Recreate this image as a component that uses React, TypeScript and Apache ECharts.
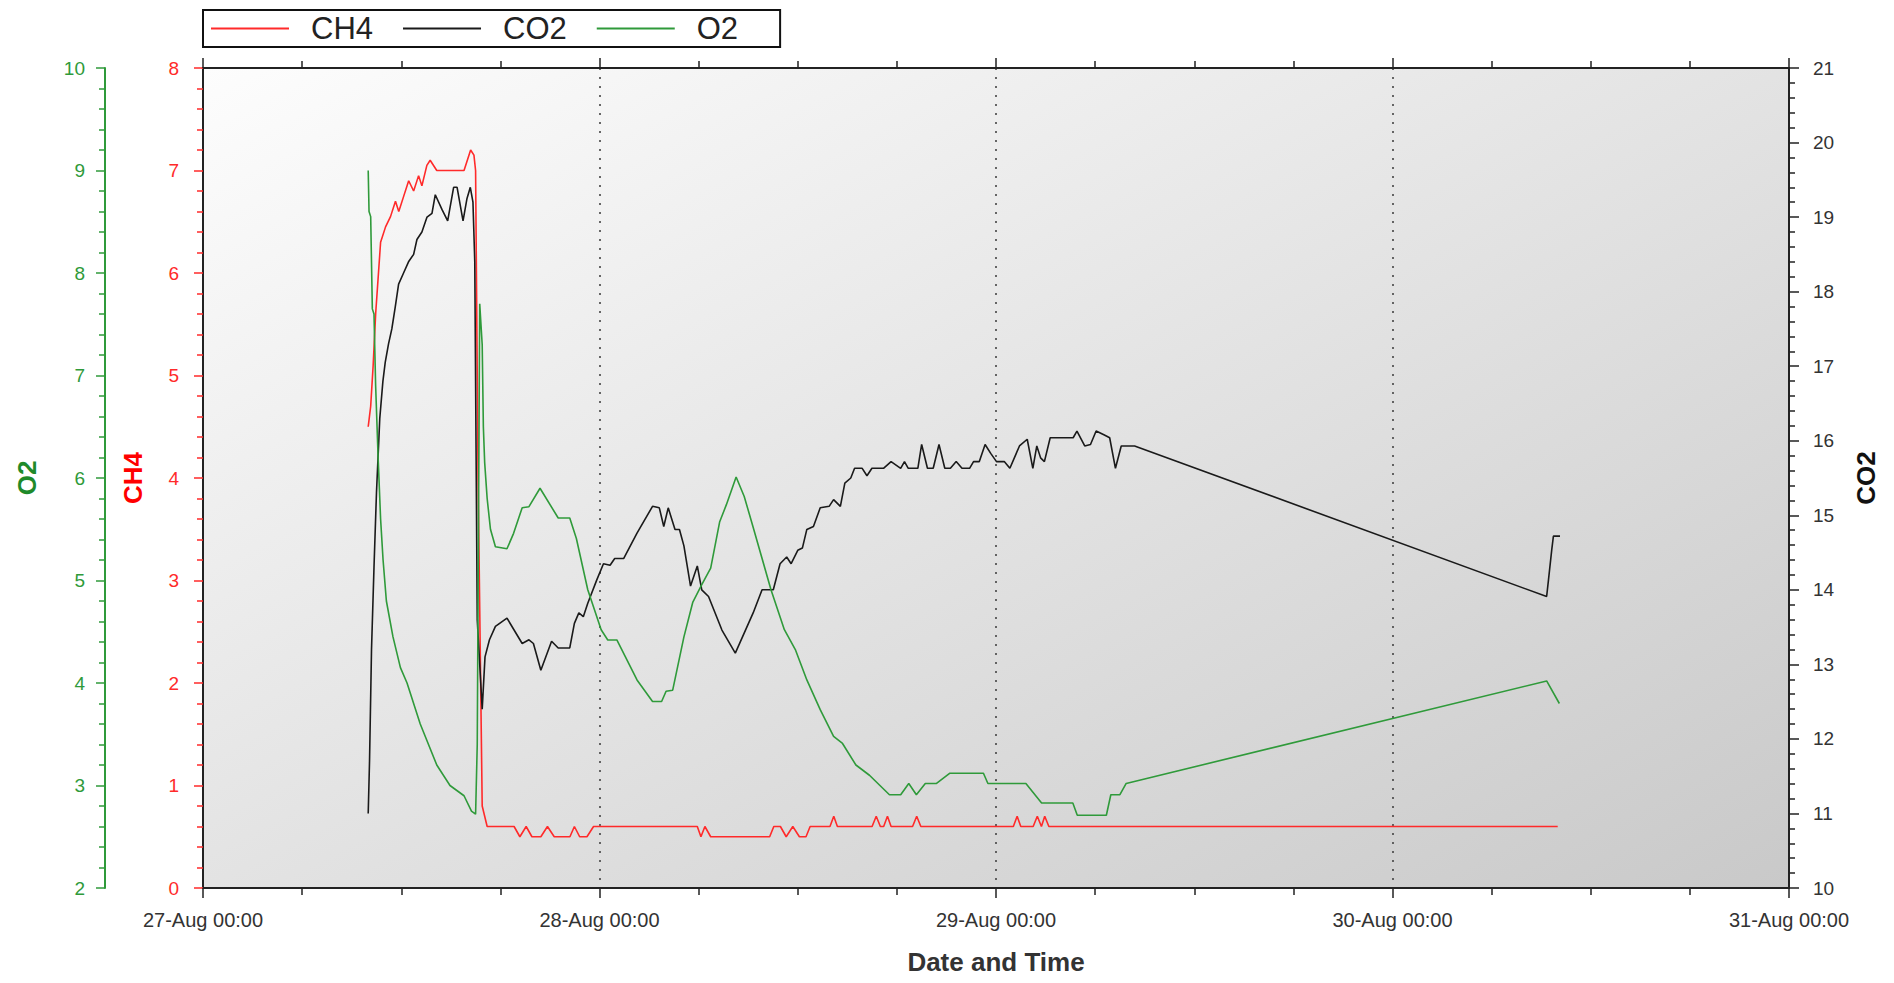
import { useEffect, useRef } from "react";
import * as echarts from "echarts";

const START = Date.UTC(2013, 7, 27);
const HOUR = 3600000;
const DAY = 24 * HOUR;
const MONTHS = ["Jan", "Feb", "Mar", "Apr", "May", "Jun", "Jul", "Aug", "Sep", "Oct", "Nov", "Dec"];

const legendNames = ["CH4", "CO2", "O2"];

// hours after 27-Aug 00:00
const ch4Hours = [
  10.0, 10.15, 10.3, 10.45, 10.75, 11.05, 11.35, 11.65, 11.85, 12.15,
  12.45, 12.75, 13.05, 13.25, 13.55, 13.75, 14.15, 15.8, 16.2, 16.4,
  16.5, 16.65, 16.9, 17.2, 18.83, 19.18, 19.56, 19.91, 20.45, 20.85,
  21.26, 22.21, 22.48, 22.8, 23.24, 23.64, 29.92, 30.14, 30.38, 30.73,
  34.3, 34.55, 34.95, 35.3, 35.7, 36.1, 36.5, 36.75, 37.95, 38.18,
  38.4, 40.5, 40.75, 41.0, 41.2, 41.43, 41.65, 42.95, 43.2, 43.45,
  49.05, 49.28, 49.5, 50.25, 50.5, 50.75, 50.95, 51.2, 82.0,
];
const ch4Values = [
  4.5, 4.7, 5.1, 5.6, 6.3, 6.45, 6.55, 6.7, 6.6, 6.75,
  6.9, 6.8, 6.95, 6.85, 7.05, 7.1, 7.0, 7.0, 7.2, 7.15,
  7.0, 4.0, 0.8, 0.6, 0.6, 0.5, 0.6, 0.5, 0.5, 0.6,
  0.5, 0.5, 0.6, 0.5, 0.5, 0.6, 0.6, 0.5, 0.6, 0.5,
  0.5, 0.6, 0.6, 0.5, 0.6, 0.5, 0.5, 0.6, 0.6, 0.7,
  0.6, 0.6, 0.7, 0.6, 0.6, 0.7, 0.6, 0.6, 0.7, 0.6,
  0.6, 0.7, 0.6, 0.6, 0.7, 0.6, 0.7, 0.6, 0.6,
];

const co2Hours = [
  10.0, 10.08, 10.2, 10.35, 10.5, 10.7, 10.89, 11.03, 11.23, 11.43,
  11.64, 11.84, 12.14, 12.44, 12.75, 12.95, 13.25, 13.56, 13.86, 14.06,
  14.47, 14.81, 15.17, 15.38, 15.74, 15.98, 16.18, 16.34, 16.45, 16.6,
  16.9, 17.07, 17.34, 17.7, 18.4, 19.32, 19.73, 20.0, 20.45, 21.1,
  21.5, 22.2, 22.48, 22.75, 23.02, 23.29, 23.83, 24.24, 24.64, 24.92,
  25.46, 26.27, 27.21, 27.62, 27.89, 28.16, 28.57, 28.84, 29.11, 29.51,
  29.92, 30.19, 30.6, 31.41, 32.22, 33.3, 33.84, 34.52, 34.93, 35.33,
  35.6, 36.0, 36.28, 36.55, 36.95, 37.36, 37.9, 38.17, 38.58, 38.85,
  39.21, 39.44, 39.9, 40.19, 40.49, 41.19, 41.65, 42.23, 42.46, 42.69,
  43.27, 43.5, 43.85, 44.2, 44.55, 44.9, 45.24, 45.59, 45.94, 46.4,
  46.64, 46.99, 47.34, 47.68, 48.03, 48.5, 48.84, 49.42, 49.89, 50.23,
  50.47, 50.7, 50.93, 51.28, 52.67, 52.9, 53.37, 53.72, 54.06, 54.53,
  54.88, 55.23, 55.58, 56.39, 81.33, 81.44, 81.64, 81.74, 82.14,
];
const co2Values = [
  11.0, 11.7, 13.2, 14.3, 15.3, 16.3, 16.8, 17.05, 17.3, 17.5,
  17.8, 18.1, 18.25, 18.4, 18.5, 18.7, 18.8, 19.0, 19.05, 19.3,
  19.1, 18.95, 19.4, 19.4, 18.95, 19.25, 19.4, 19.2, 18.4, 13.6,
  12.4, 13.1, 13.33, 13.51, 13.62, 13.28, 13.33, 13.28, 12.92, 13.31,
  13.22, 13.22, 13.55, 13.69, 13.64, 13.82, 14.13, 14.35, 14.33, 14.42,
  14.42, 14.76, 15.12, 15.1, 14.85, 15.1, 14.81, 14.81, 14.59, 14.05,
  14.32, 14.0, 13.91, 13.46, 13.15, 13.69, 14.0, 14.0, 14.35, 14.44,
  14.35, 14.53, 14.56, 14.81, 14.85, 15.1, 15.12, 15.21, 15.12, 15.43,
  15.5, 15.63, 15.63, 15.53, 15.63, 15.63, 15.72, 15.63, 15.72, 15.63,
  15.63, 15.95, 15.63, 15.63, 15.95, 15.63, 15.63, 15.72, 15.63, 15.63,
  15.72, 15.72, 15.95, 15.83, 15.72, 15.72, 15.63, 15.93, 16.02, 15.63,
  15.93, 15.77, 15.72, 16.04, 16.04, 16.13, 15.93, 15.95, 16.13, 16.08,
  16.04, 15.63, 15.93, 15.93, 13.91, 14.13, 14.54, 14.72, 14.72,
];

const o2Hours = [
  10.0, 10.05, 10.15, 10.25, 10.35, 10.45, 10.6, 10.75, 10.9, 11.1,
  11.5, 11.95, 12.35, 13.15, 14.15, 14.95, 15.8, 16.25, 16.5, 16.6,
  16.75, 16.9, 16.97, 17.05, 17.2, 17.4, 17.7, 18.4, 18.8, 19.32,
  19.73, 20.4, 21.5, 22.2, 22.6, 23.29, 24.1, 24.5, 25.05, 26.27,
  27.21, 27.76, 28.03, 28.43, 29.11, 29.65, 30.19, 30.73, 31.27, 31.68,
  32.27, 32.76, 33.3, 34.38, 35.19, 35.87, 36.55, 37.36, 38.17, 38.71,
  39.52, 40.34, 41.55, 42.23, 42.72, 43.18, 43.72, 44.4, 45.21, 47.24,
  47.51, 49.81, 50.76, 52.65, 52.92, 54.68, 54.95, 55.5, 55.88, 81.33,
  82.1,
];
const o2Values = [
  9.0, 8.6, 8.55, 7.65, 7.6, 6.9, 6.2, 5.6, 5.2, 4.8,
  4.45, 4.15, 4.0, 3.6, 3.2, 3.0, 2.9, 2.75, 2.72, 3.4,
  7.7, 7.3, 6.5, 6.15, 5.8, 5.5, 5.33, 5.31, 5.46, 5.71,
  5.72, 5.9, 5.61, 5.61, 5.41, 4.91, 4.52, 4.42, 4.42, 4.03,
  3.82, 3.82, 3.92, 3.93, 4.45, 4.79, 4.96, 5.12, 5.57, 5.74,
  6.01, 5.82, 5.52, 4.91, 4.52, 4.32, 4.03, 3.74, 3.48, 3.41,
  3.2, 3.1, 2.91, 2.91, 3.02, 2.91, 3.02, 3.02, 3.12, 3.12,
  3.02, 3.02, 2.83, 2.83, 2.71, 2.71, 2.91, 2.91, 3.02, 4.02,
  3.8,
];

const toPairs = (hours: number[], values: number[]) =>
  hours.map((h, i) => [START + h * HOUR, values[i]]);

const FONT = "Liberation Sans, Arial, sans-serif";
const RED = "#ff2a2a";
const GREEN = "#2f9a3a";
const BLACK = "#1a1a1a";

export default function App() {
  const ref = useRef<HTMLDivElement>(null);
  useEffect(() => {
    const chart = echarts.init(ref.current!, null, { renderer: "svg" });
    const dateLabel = (v: number) => {
      const d = new Date(v);
      return `${d.getUTCDate()}-${MONTHS[d.getUTCMonth()]} 00:00`;
    };
    const xBase = {
      type: "value",
      min: START,
      max: START + 4 * DAY,
      interval: DAY,
      axisLine: { show: true, onZero: false, lineStyle: { color: "#222", width: 2 } },
      axisTick: { show: true, length: 10, lineStyle: { color: "#222", width: 1.5 } },
      minorTick: { show: true, splitNumber: 4, length: 7, lineStyle: { color: "#222", width: 1.5 } },
    };
    chart.setOption({
      animation: false,
      textStyle: { fontFamily: FONT },
      grid: {
        left: 203,
        right: 105,
        top: 68,
        bottom: 95,
        show: true,
        backgroundColor: new echarts.graphic.LinearGradient(0, 0, 1, 1, [
          { offset: 0, color: "#fdfdfd" },
          { offset: 1, color: "#c9c9c9" },
        ]),
        borderColor: "#222",
        borderWidth: 2,
      },
      legend: {
        data: legendNames,
        left: 203,
        top: 10,
        backgroundColor: "#fff",
        borderColor: "#111",
        borderWidth: 2,
        borderRadius: 0,
        padding: [3, 42, 3, 8],
        itemWidth: 78,
        itemHeight: 2,
        itemGap: 30,
        icon: "rect",
        textStyle: { fontSize: 31, color: "#222", fontFamily: FONT, padding: [0, 0, 0, 17] },
      },
      xAxis: [
        {
          ...xBase,
          position: "bottom",
          splitLine: { show: true, lineStyle: { type: [2, 7], color: "#444", width: 1.6 } },
          axisLabel: { formatter: dateLabel, color: "#333", fontSize: 20, margin: 22, fontFamily: FONT },
          name: "Date and Time",
          nameLocation: "middle",
          nameGap: 61,
          nameTextStyle: { fontWeight: "bold", fontSize: 26, color: "#333", fontFamily: FONT },
        },
        {
          ...xBase,
          position: "top",
          splitLine: { show: false },
          axisLabel: { show: false },
        },
      ],
      yAxis: [
        {
          type: "value",
          position: "left",
          min: 0,
          max: 8,
          interval: 1,
          axisLine: { show: true, onZero: false, lineStyle: { color: "#222", width: 2 } },
          axisTick: { show: true, length: 9, lineStyle: { color: RED, width: 1.5 } },
          minorTick: { show: true, splitNumber: 5, length: 6, lineStyle: { color: RED, width: 1.5 } },
          axisLabel: { color: RED, fontSize: 19, margin: 24, fontFamily: FONT },
          splitLine: { show: false },
          name: "CH4",
          nameLocation: "middle",
          nameGap: 57,
          nameRotate: 90,
          nameTextStyle: { color: "#ff0000", fontWeight: "bold", fontSize: 26, fontFamily: FONT },
        },
        {
          type: "value",
          position: "left",
          offset: 98,
          min: 2,
          max: 10,
          interval: 1,
          axisLine: { show: true, onZero: false, lineStyle: { color: GREEN, width: 2 } },
          axisTick: { show: true, length: 9, lineStyle: { color: GREEN, width: 1.5 } },
          minorTick: { show: true, splitNumber: 5, length: 6, lineStyle: { color: GREEN, width: 1.5 } },
          axisLabel: { color: GREEN, fontSize: 19, margin: 20, fontFamily: FONT },
          splitLine: { show: false },
          name: "O2",
          nameLocation: "middle",
          nameGap: 65,
          nameRotate: 90,
          nameTextStyle: { color: "#1f8a2a", fontWeight: "bold", fontSize: 26, fontFamily: FONT },
        },
        {
          type: "value",
          position: "right",
          min: 10,
          max: 21,
          interval: 1,
          axisLine: { show: true, onZero: false, lineStyle: { color: "#222", width: 2 } },
          axisTick: { show: true, length: 10, lineStyle: { color: "#222", width: 1.5 } },
          minorTick: { show: true, splitNumber: 5, length: 6, lineStyle: { color: "#222", width: 1.5 } },
          axisLabel: { color: "#333", fontSize: 19, margin: 24, fontFamily: FONT },
          splitLine: { show: false },
          name: "CO2",
          nameLocation: "middle",
          nameGap: 64,
          nameRotate: 90,
          nameTextStyle: { color: "#111", fontWeight: "bold", fontSize: 26, fontFamily: FONT },
        },
      ],
      series: [
        {
          type: "line",
          name: "CH4",
          yAxisIndex: 0,
          data: toPairs(ch4Hours, ch4Values),
          showSymbol: false,
          symbol: "none",
          lineStyle: { color: RED, width: 1.6 },
          itemStyle: { color: RED },
        },
        {
          type: "line",
          name: "CO2",
          yAxisIndex: 2,
          data: toPairs(co2Hours, co2Values),
          showSymbol: false,
          symbol: "none",
          lineStyle: { color: BLACK, width: 1.6 },
          itemStyle: { color: BLACK },
        },
        {
          type: "line",
          name: "O2",
          yAxisIndex: 1,
          data: toPairs(o2Hours, o2Values),
          showSymbol: false,
          symbol: "none",
          lineStyle: { color: GREEN, width: 1.6 },
          itemStyle: { color: GREEN },
        },
      ],
    });
    return () => chart.dispose();
  }, []);
  return (
    <div
      ref={ref}
      style={{ position: "absolute", left: 0, top: 0, width: 1894, height: 983 }}
    />
  );
}
